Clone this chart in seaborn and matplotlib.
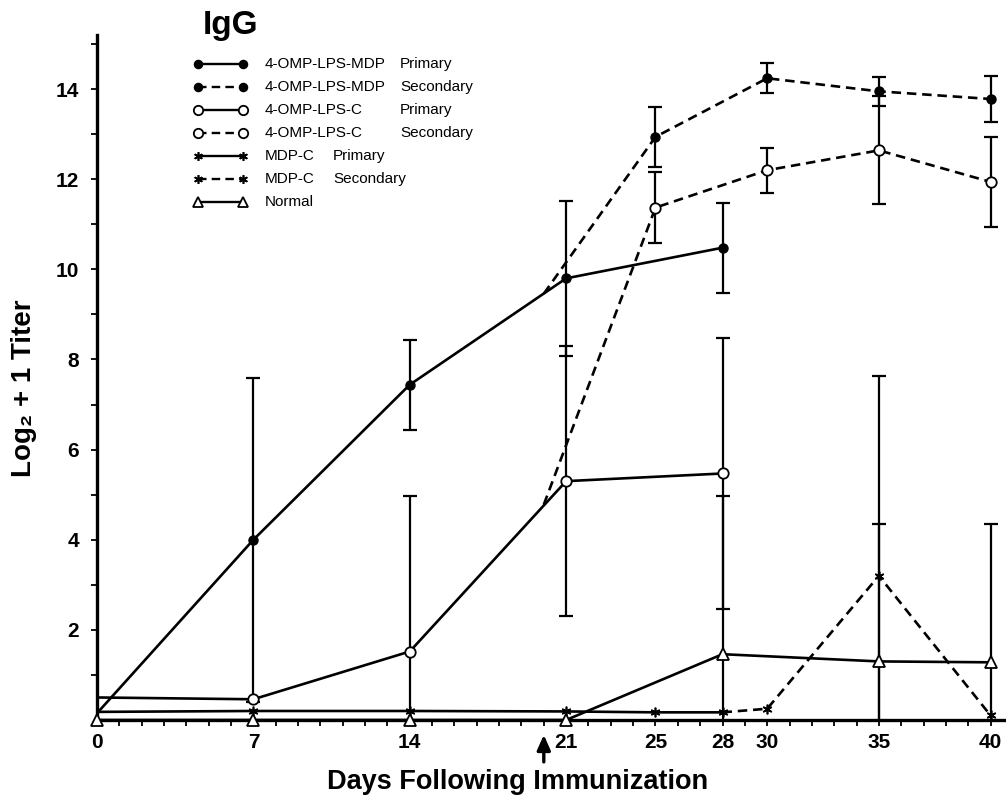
import numpy as np
import seaborn as sns
import matplotlib.pyplot as plt
from matplotlib.lines import Line2D

# x axis: days following immunization
tick_days = [0, 7, 14, 21, 25, 28, 30, 35, 40]
boost_day = 20

# 4-OMP-LPS-MDP primary
mdp_pri_days = [0, 7, 14, 21, 28]
mdp_pri_vals = [0.15, 4.0, 7.44, 9.8, 10.48]
mdp_pri_err = [0, 3.6, 1.0, 1.72, 1.0]

# 4-OMP-LPS-MDP secondary (starts from the boost on day 20)
mdp_sec_days = [20, 25, 30, 35, 40]
mdp_sec_vals = [9.46, 12.94, 14.24, 13.95, 13.78]
mdp_sec_err = [0, 0.66, 0.33, 0.32, 0.5]

# 4-OMP-LPS-C primary
lpc_pri_days = [0, 7, 14, 21, 28]
lpc_pri_vals = [0.5, 0.46, 1.52, 5.3, 5.47]
lpc_pri_err = [0, 0, 3.45, 3.0, 3.0]

# 4-OMP-LPS-C secondary
lpc_sec_days = [20, 25, 30, 35, 40]
lpc_sec_vals = [4.78, 11.37, 12.2, 12.64, 11.94]
lpc_sec_err = [0, 0.78, 0.5, 1.2, 1.0]

# MDP-C primary
mdc_pri_days = [0, 7, 14, 21, 25, 28]
mdc_pri_vals = [0.18, 0.2, 0.2, 0.19, 0.17, 0.17]
mdc_pri_err = [0, 0, 0, 0, 0, 0]

# MDP-C secondary
mdc_sec_days = [28, 30, 35, 40]
mdc_sec_vals = [0.17, 0.25, 3.2, 0.1]
mdc_sec_err = [0, 0, 4.44, 0]

# Normal
norm_days = [0, 7, 14, 21, 28, 35, 40]
norm_vals = [0, 0, 0, 0, 1.46, 1.3, 1.28]
norm_err = [0, 0, 0, 0, 3.5, 3.06, 3.07]

legend_names = ["4-OMP-LPS-MDP", "4-OMP-LPS-MDP", "4-OMP-LPS-C", "4-OMP-LPS-C",
                "MDP-C", "MDP-C", "Normal"]
legend_kind = ["Primary", "Secondary", "Primary", "Secondary", "Primary", "Secondary", ""]

sns.set_style('ticks')
plt.rcParams['font.family'] = ['Liberation Sans', 'DejaVu Sans']
plt.rcParams['text.color'] = 'k'
plt.rcParams['axes.labelcolor'] = 'k'
plt.rcParams['xtick.color'] = 'k'
plt.rcParams['ytick.color'] = 'k'

fig = plt.figure(figsize=(10.06, 7.95), dpi=100)
W, H = 1006, 795
ax = fig.add_axes([97 / W, (H - 720) / H, 907 / W, 685 / H])

DASH = (0, (3.6, 2.2))
STAR = (6, 2, 0)
styles = {
    'filled': dict(marker='o', ms=6.5, mfc='k', mec='k', mew=1.0),
    'open': dict(marker='o', ms=7.5, mfc='white', mec='k', mew=1.3),
    'star': dict(marker=STAR, ms=7, mfc='k', mec='k', mew=1.2),
    'tri': dict(marker='^', ms=8, mfc='white', mec='k', mew=1.3),
}

series = [
    (mdp_pri_days, mdp_pri_vals, mdp_pri_err, '-', 'filled', 1),
    (mdp_sec_days, mdp_sec_vals, mdp_sec_err, DASH, 'filled', 1),
    (lpc_pri_days, lpc_pri_vals, lpc_pri_err, '-', 'open', 1),
    (lpc_sec_days, lpc_sec_vals, lpc_sec_err, DASH, 'open', 1),
    (mdc_pri_days, mdc_pri_vals, mdc_pri_err, '-', 'star', 1),
    (mdc_sec_days, mdc_sec_vals, mdc_sec_err, DASH, 'star', 1),
    (norm_days, norm_vals, norm_err, '-', 'tri', 0),
]

for days, vals, err, ls, mk, first in series:
    days = np.array(days, dtype=float)
    vals = np.array(vals, dtype=float)
    err = np.array(err, dtype=float)
    sns.lineplot(x=days, y=vals, ax=ax, color='k', linewidth=1.9,
                 linestyle=ls, errorbar=None, sort=False, zorder=3)
    has = err > 0
    if has.any():
        ax.errorbar(days[has], vals[has], yerr=err[has], fmt='none', ecolor='k',
                    elinewidth=1.6, capsize=5, capthick=1.6, zorder=2)
    ax.plot(days[first:], vals[first:], linestyle='none', color='k',
            clip_on=False, zorder=4, **styles[mk])

ax.set_xlim(0, 40.6)
ax.set_ylim(0, 15.2)
ax.set_xticks(tick_days)
ax.set_xticks(np.arange(0, 41), minor=True)
ax.set_yticks(np.arange(2, 15, 2))
ax.set_yticks(np.arange(1, 16), minor=True)
ax.tick_params(which='both', direction='out', length=4, width=1.3, color='k')
ax.tick_params(axis='x', which='major', labelsize=15, pad=5)
ax.tick_params(axis='y', which='major', labelsize=15, pad=9)
for lab in ax.get_xticklabels() + ax.get_yticklabels():
    lab.set_fontweight('bold')

sns.despine(ax=ax)
for side in ['left', 'bottom']:
    ax.spines[side].set_linewidth(2.4)
    ax.spines[side].set_color('k')

ax.set_xlabel('Days Following Immunization', fontsize=19.5, fontweight='bold')
ax.xaxis.set_label_coords(0.464, -0.071)
ax.set_ylabel('Log₂ + 1 Titer', fontsize=20, fontweight='bold')
ax.yaxis.set_label_coords(-0.066, 0.485)

# boost arrow under the axis
ax.annotate('', xy=(boost_day, -0.33), xytext=(boost_day, -0.93),
            arrowprops=dict(arrowstyle='-|>,head_length=0.9,head_width=0.4',
                            color='k', lw=2.4, shrinkA=0, shrinkB=0),
            annotation_clip=False)

# title
fig.text(203 / W, 1 - 34 / H, 'IgG', fontsize=24, fontweight='bold', va='baseline')

# legend drawn by hand in figure pixels
legend_styles = [('-', 'filled'), (DASH, 'filled'), ('-', 'open'), (DASH, 'open'),
                 ('-', 'star'), (DASH, 'star'), ('-', 'tri')]
col2 = [400, 400, 400, 400, 333, 333, 0]
for i, (name, kind) in enumerate(zip(legend_names, legend_kind)):
    py = 64 + i * 23.0
    fy = 1 - py / H
    ls, mk = legend_styles[i]
    fig.add_artist(Line2D([198 / W, 243 / W], [fy, fy], color='k', lw=1.7,
                          linestyle=ls, transform=fig.transFigure))
    st = dict(styles[mk])
    st['ms'] = st['ms'] * 0.9
    fig.add_artist(Line2D([198 / W, 243 / W], [fy, fy], linestyle='none', color='k',
                          transform=fig.transFigure, **st))
    fig.text(265 / W, fy, name, fontsize=11, va='center')
    if kind:
        fig.text(col2[i] / W, fy, kind, fontsize=11, va='center')

fig.savefig('out.png', dpi=100)
